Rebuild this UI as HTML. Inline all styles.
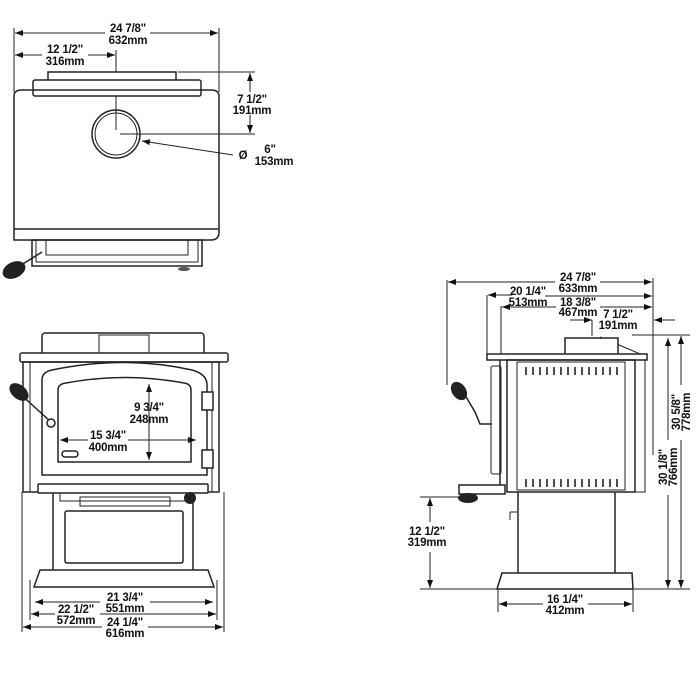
<!DOCTYPE html>
<html><head><meta charset="utf-8"><style>
html,body{margin:0;padding:0;background:#fff}
svg{display:block}
text{font-family:"Liberation Sans",Arial,sans-serif;font-weight:bold;font-size:11.5px;fill:#111;text-anchor:middle;letter-spacing:-0.2px}
.l{stroke:#222;stroke-width:1.5;fill:none}
.t{stroke:#222;stroke-width:1;fill:none}
.w{stroke:#222;stroke-width:1.5;fill:#fff}
</style></head><body>
<svg width="700" height="700" viewBox="0 0 700 700">
<defs>
<marker id="a" markerWidth="8" markerHeight="6" refX="8" refY="3" orient="auto-start-reverse" markerUnits="userSpaceOnUse"><path d="M0,0 L8,3 L0,6z" fill="#111"/></marker>
</defs>

<!-- TOP VIEW -->
<line class="t" x1="14" y1="28" x2="14" y2="92"/><line class="t" x1="219" y1="28" x2="219" y2="92"/>
<line class="t" x1="15" y1="33" x2="105" y2="33" marker-start="url(#a)"/><line class="t" x1="150" y1="33" x2="218" y2="33" marker-end="url(#a)"/>
<text x="128" y="32">24 7/8"</text><text x="128" y="44">632mm</text>
<line class="t" x1="15" y1="55" x2="42" y2="55" marker-start="url(#a)"/><line class="t" x1="88" y1="55" x2="115" y2="55" marker-end="url(#a)"/>
<line class="t" x1="116" y1="50" x2="116" y2="130"/>
<text x="65" y="53">12 1/2"</text><text x="65" y="65">316mm</text>
<rect class="w" x="48" y="72" width="128" height="9"/>
<line class="t" x1="178" y1="72" x2="255" y2="72"/>
<rect class="w" x="33" y="80" width="168" height="16" rx="2"/>
<path class="l" d="M14,240 L14,96 Q14,90 22,90 L211,90 Q219,90 219,96 L219,232 Q219,240 211,240 Z" fill="#fff"/>
<line class="l" x1="14" y1="229" x2="219" y2="229"/>
<circle class="l" cx="116" cy="134" r="24" stroke-width="2"/><circle class="t" cx="116" cy="134" r="21"/>
<line class="t" x1="120" y1="134" x2="255" y2="134"/>
<line class="t" x1="250" y1="73" x2="250" y2="92" marker-start="url(#a)"/><line class="t" x1="250" y1="115" x2="250" y2="133" marker-end="url(#a)"/>
<text x="252" y="103">7 1/2"</text><text x="252" y="114">191mm</text>
<line class="t" x1="233" y1="155" x2="142" y2="141" marker-end="url(#a)"/>
<text x="243" y="159">Ø</text><text x="270" y="153">6"</text><text x="274" y="165">153mm</text>
<rect class="l" x="32" y="240" width="170" height="26"/>
<path class="t" d="M36,240 V262 H198 V240 M46,240 V255 H188 V240"/>
<line class="l" x1="42" y1="252" x2="18" y2="267" stroke-width="3"/>
<ellipse cx="14" cy="270" rx="12" ry="8" fill="#222" transform="rotate(-25 14 270)"/>
<ellipse cx="184" cy="269" rx="6" ry="2" fill="#555"/>

<!-- FRONT VIEW -->
<rect class="w" x="42" y="333" width="162" height="22" rx="3"/>
<rect class="t" x="99" y="335" width="50" height="18"/>
<rect class="w" x="20" y="353" width="208" height="9" rx="2"/>
<rect class="l" x="23" y="362" width="196" height="130"/>
<line class="t" x1="30" y1="362" x2="30" y2="492"/><line class="t" x1="212" y1="362" x2="212" y2="492"/>
<path class="l" d="M42,475 V380 Q42,372 52,370 Q124,355 192,370 Q207,374 207,385 V475 Z" stroke-width="2"/>
<path class="l" d="M58,462 V390 Q58,384 66,383 Q124,372 184,383 Q191,384 191,390 V462 Z"/>
<rect class="l" x="62" y="451" width="16" height="6" rx="3"/>
<rect class="w" x="202" y="392" width="11" height="18"/><rect class="w" x="202" y="450" width="11" height="18"/>
<line class="l" x1="18" y1="392" x2="51" y2="422" stroke-width="3"/>
<circle class="w" cx="51" cy="423" r="4"/>
<ellipse cx="19" cy="392" rx="11" ry="7" fill="#222" transform="rotate(40 19 392)"/>
<line class="t" x1="149" y1="384" x2="149" y2="460" marker-start="url(#a)" marker-end="url(#a)"/>
<text x="149" y="411">9 3/4"</text><text x="149" y="423">248mm</text>
<line class="t" x1="60" y1="440" x2="196" y2="440" marker-start="url(#a)" marker-end="url(#a)"/>
<rect x="88" y="429" width="40" height="24" fill="#fff"/>
<text x="108" y="439">15 3/4"</text><text x="108" y="451">400mm</text>
<rect class="w" x="38" y="484" width="170" height="9" rx="1"/>
<rect class="t" x="60" y="493" width="130" height="8"/>
<rect class="t" x="80" y="497" width="90" height="9"/>
<circle cx="190" cy="498" r="6" fill="#222"/>
<line class="l" x1="53" y1="493" x2="53" y2="570"/><line class="l" x1="193" y1="493" x2="193" y2="570"/>
<rect class="l" x="65" y="511" width="118" height="52" rx="2"/>
<path class="w" d="M40,570 H208 L214,587 H34 Z"/>
<line class="t" x1="22" y1="492" x2="22" y2="632"/><line class="t" x1="224" y1="492" x2="224" y2="632"/>
<line class="t" x1="30" y1="580" x2="30" y2="620"/><line class="t" x1="217" y1="580" x2="217" y2="620"/>
<line class="t" x1="35" y1="602" x2="213" y2="602" marker-start="url(#a)" marker-end="url(#a)"/>
<rect x="100" y="592" width="50" height="24" fill="#fff"/>
<text x="125" y="601">21 3/4"</text><text x="125" y="612">551mm</text>
<line class="t" x1="31" y1="614" x2="216" y2="614" marker-start="url(#a)" marker-end="url(#a)"/>
<rect x="55" y="605" width="45" height="22" fill="#fff"/>
<text x="76" y="613">22 1/2"</text><text x="76" y="624">572mm</text>
<line class="t" x1="23" y1="627" x2="223" y2="627" marker-start="url(#a)" marker-end="url(#a)"/>
<rect x="102" y="617" width="46" height="22" fill="#fff"/>
<text x="125" y="626">24 1/4"</text><text x="125" y="637">616mm</text>

<!-- SIDE VIEW -->
<line class="t" x1="447" y1="280" x2="447" y2="385"/>
<line class="t" x1="653" y1="278" x2="653" y2="455"/>
<line class="t" x1="448" y1="282" x2="555" y2="282" marker-start="url(#a)"/><line class="t" x1="600" y1="282" x2="652" y2="282" marker-end="url(#a)"/>
<text x="578" y="281">24 7/8"</text><text x="578" y="292">633mm</text>
<line class="t" x1="487" y1="295" x2="487" y2="355"/>
<line class="t" x1="488" y1="295" x2="512" y2="295" marker-start="url(#a)"/><line class="t" x1="545" y1="296" x2="652" y2="296" marker-end="url(#a)"/>
<text x="528" y="295">20 1/4"</text><text x="528" y="306">513mm</text>
<line class="t" x1="501" y1="306" x2="501" y2="355"/>
<line class="t" x1="502" y1="307" x2="556" y2="307" marker-start="url(#a)"/><line class="t" x1="600" y1="307" x2="652" y2="307" marker-end="url(#a)"/>
<text x="578" y="306">18 3/8"</text><text x="578" y="316">467mm</text>
<line class="t" x1="570" y1="320" x2="592" y2="320" marker-end="url(#a)"/>
<line class="t" x1="592" y1="320" x2="592" y2="336"/>
<line class="t" x1="675" y1="320" x2="654" y2="320" marker-end="url(#a)"/>
<text x="618" y="318">7 1/2"</text><text x="618" y="329">191mm</text>
<line class="t" x1="632" y1="335" x2="690" y2="335"/>
<line class="t" x1="600" y1="337" x2="645" y2="356"/>
<rect class="w" x="565" y="338" width="53" height="17"/>
<rect class="w" x="487" y="354" width="160" height="6"/>
<rect class="l" x="507" y="360" width="128" height="132"/>
<rect class="t" x="517" y="362" width="108" height="128"/>
<line class="l" x1="500" y1="360" x2="500" y2="492"/>
<rect class="t" x="491" y="366" width="10" height="108" rx="2"/>
<rect class="t" x="635" y="360" width="10" height="132"/>
<g stroke="#222" stroke-width="1.6">
<path d="M526,367v8M533,367v8M540,367v8M547,367v8M554,367v8M561,367v8M568,367v8M575,367v8M582,367v8M589,367v8M596,367v8M603,367v8M610,367v8M617,367v8"/>
<path d="M526,479v8M533,479v8M540,479v8M547,479v8M554,479v8M561,479v8M568,479v8M575,479v8M582,479v8M589,479v8M596,479v8M603,479v8M610,479v8M617,479v8"/>
</g>
<path class="l" d="M462,390 L475,412 L480,424 H492" stroke-width="3"/>
<ellipse cx="459" cy="391" rx="10" ry="7" fill="#222" transform="rotate(55 459 391)"/>
<rect class="w" x="459" y="485" width="46" height="9"/>
<ellipse cx="468" cy="498" rx="10" ry="5" fill="#222"/>
<line class="l" x1="518" y1="492" x2="518" y2="573"/><line class="l" x1="615" y1="492" x2="615" y2="573"/>
<path class="t" d="M510,512 H517 M510,512 V520"/>
<path class="w" d="M502,573 H632 L633,589 H497 Z"/>
<line class="t" x1="668" y1="338" x2="668" y2="588" marker-start="url(#a)" marker-end="url(#a)"/>
<line class="t" x1="681" y1="336" x2="681" y2="588" marker-start="url(#a)" marker-end="url(#a)"/>
<line class="t" x1="634" y1="589" x2="690" y2="589"/>
<rect x="661" y="440" width="14" height="55" fill="#fff"/>
<rect x="674" y="385" width="14" height="55" fill="#fff"/>
<text transform="translate(667,467) rotate(-90)">30 1/8"</text>
<text transform="translate(677,467) rotate(-90)">766mm</text>
<text transform="translate(680,412) rotate(-90)">30 5/8"</text>
<text transform="translate(690,412) rotate(-90)">778mm</text>
<line class="t" x1="420" y1="497" x2="465" y2="497"/>
<line class="t" x1="420" y1="589" x2="497" y2="589"/>
<line class="t" x1="430" y1="498" x2="430" y2="522" marker-start="url(#a)"/><line class="t" x1="430" y1="552" x2="430" y2="588" marker-end="url(#a)"/>
<text x="427" y="535">12 1/2"</text><text x="427" y="546">319mm</text>
<line class="t" x1="498" y1="589" x2="498" y2="612"/><line class="t" x1="633" y1="589" x2="633" y2="612"/>
<line class="t" x1="499" y1="604" x2="543" y2="604" marker-start="url(#a)"/><line class="t" x1="588" y1="604" x2="632" y2="604" marker-end="url(#a)"/>
<text x="565" y="603">16 1/4"</text><text x="565" y="614">412mm</text>
</svg>
</body></html>
